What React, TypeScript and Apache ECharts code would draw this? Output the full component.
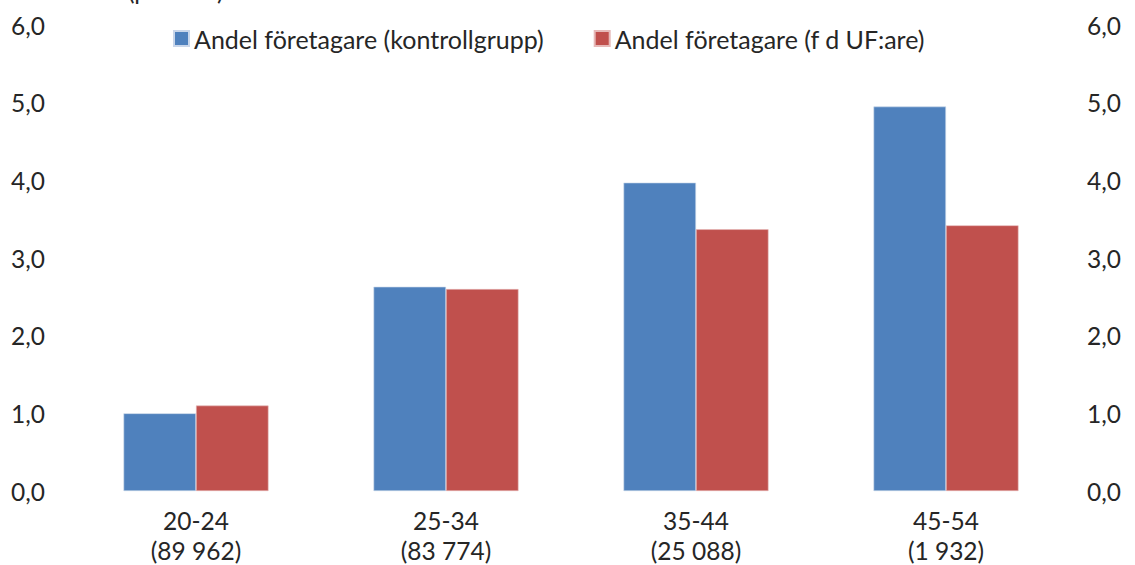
import React, { useEffect, useRef } from "react";
import * as echarts from "echarts";

const categories = ["20-24\n(89 962)", "25-34\n(83 774)", "35-44\n(25 088)", "45-54\n(1 932)"];
const seriesNames = ["Andel företagare (kontrollgrupp)", "Andel företagare (f d UF:are)"];
const controlValues = [1.0, 2.63, 3.97, 4.95];
const ufValues = [1.1, 2.6, 3.37, 3.42];
const axisTitle = "(procent)";

const FONT = "Lato";
const FS = 24.5;

export default function App() {
  const ref = useRef<HTMLDivElement>(null);
  useEffect(() => {
    document.body.style.margin = "0";
    const chart = echarts.init(ref.current!, null, { renderer: "svg" });
    const fmt = (v: number) => v.toFixed(1).replace(".", ",");
    const yAxisBase = {
      type: "value" as const,
      min: 0,
      max: 6,
      interval: 1,
      splitLine: { show: false },
      axisLine: { show: false },
      axisTick: { show: false },
      axisLabel: { formatter: fmt, color: "#262626", fontSize: FS, fontFamily: FONT },
    };
    chart.setOption({
      animation: false,
      textStyle: { fontFamily: FONT },
      grid: { left: 71, right: 64, top: 25, bottom: 72 },
      legend: {
        top: 21,
        left: 168,
        itemWidth: 15,
        itemHeight: 15,
        itemGap: 50,
        icon: "rect",
        textStyle: { fontSize: 25, color: "#262626", fontFamily: FONT },
        data: seriesNames,
      },
      graphic: [
        {
          type: "text",
          left: 128,
          top: -22,
          style: { text: axisTitle, fontSize: FS, fill: "#262626", fontFamily: FONT },
        },
      ],
      xAxis: {
        type: "category",
        data: categories,
        axisLine: { show: false },
        axisTick: { show: false },
        axisLabel: { color: "#262626", fontSize: FS, lineHeight: 30, margin: 14, fontFamily: FONT },
      },
      yAxis: [
        { ...yAxisBase, axisLabel: { ...yAxisBase.axisLabel, margin: 26 } },
        { ...yAxisBase, position: "right", axisLabel: { ...yAxisBase.axisLabel, margin: 16 } },
      ],
      series: [
        {
          name: seriesNames[0],
          type: "bar",
          data: controlValues,
          barGap: "0%",
          barCategoryGap: "42%",
          itemStyle: { color: "#4F81BD", borderColor: "#c9d6ea", borderWidth: 0.6 },
        },
        {
          name: seriesNames[1],
          type: "bar",
          data: ufValues,
          barGap: "0%",
          barCategoryGap: "42%",
          itemStyle: { color: "#C0504D", borderColor: "#e6b9b8", borderWidth: 0.6 },
        },
      ],
    });
    return () => chart.dispose();
  }, []);
  return <div ref={ref} style={{ width: 1135, height: 565 }} />;
}
